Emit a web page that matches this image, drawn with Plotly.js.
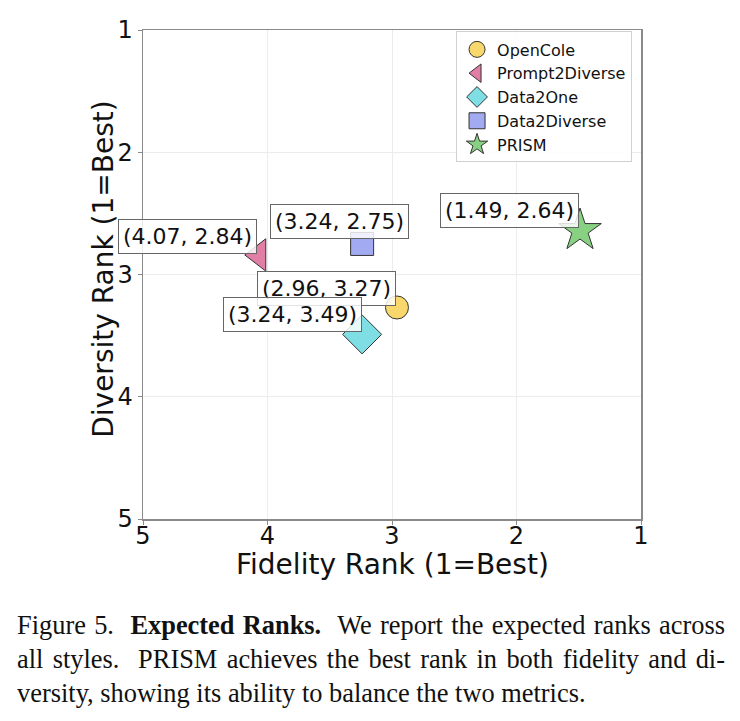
<!DOCTYPE html>
<html>
<head>
<meta charset="utf-8">
<script src="https://cdn.plot.ly/plotly-3.0.1.min.js"></script>
<style>
  html, body { margin: 0; padding: 0; background: #fff; }
  #wrap { position: relative; width: 740px; height: 721px; }
  #chart { position: absolute; left: 0; top: 0; width: 740px; height: 721px; }
  #caption {
    position: absolute; left: 17px; top: 607px; width: 708px;
    font-family: "Liberation Serif", "Times New Roman", serif;
    font-size: 26.4px; line-height: 34px; color: #111;
  }
  #caption .ln { text-align: justify; text-align-last: justify; white-space: nowrap;
                 transform: scaleY(1.07); transform-origin: 50% 50%; }
  #caption .ln.last { text-align-last: left; }
</style>
</head>
<body>
<div id="wrap">
  <div id="chart"></div>
  <div id="caption">
    <div class="ln">Figure 5.&nbsp; <b>Expected Ranks.</b>&nbsp; We report the expected ranks across</div>
    <div class="ln">all styles.&nbsp; PRISM achieves the best rank in both fidelity and di-</div>
    <div class="ln last">versity, showing its ability to balance the two metrics.</div>
  </div>
</div>
<script>
// Expected ranks per method (lower is better on both axes)
const methods = ["OpenCole", "Prompt2Diverse", "Data2One", "Data2Diverse", "PRISM"];
const fidelityRank = [2.96, 4.07, 3.24, 3.24, 1.49];
const diversityRank = [3.27, 2.84, 3.49, 2.75, 2.64];
const rankTicks = [1, 2, 3, 4, 5];

const symbols = ["circle", "triangle-left", "diamond", "square", "star"];
const colors = ["#F8D76C", "#E07EA6", "#7EDEE4", "#A2AAF2", "#88D182"];
const sizes = [23, 28, 30, 23, 32];
// label box offsets in pixels (right, up) relative to each marker
const labelShift = [[-70, 19], [-71, 18], [-70, 20], [-23, 22], [-71, 20]];

const traces = methods.map((m, i) => ({
  type: "scatter",
  mode: "markers",
  name: m,
  x: [fidelityRank[i]],
  y: [diversityRank[i]],
  marker: {
    symbol: symbols[i],
    size: sizes[i],
    color: colors[i],
    line: { color: "#333", width: 1 }
  },
  hoverinfo: "skip"
}));

const labelFont = { family: "DejaVu Sans", size: 22, color: "#111" };
const titleFont = { family: "DejaVu Sans", size: 28, color: "#111" };

const annotations = methods.map((m, i) => ({
  x: fidelityRank[i],
  y: diversityRank[i],
  xref: "x", yref: "y",
  text: "(" + fidelityRank[i].toFixed(2) + ", " + diversityRank[i].toFixed(2) + ")",
  showarrow: false,
  xshift: labelShift[i][0],
  yshift: labelShift[i][1],
  font: labelFont,
  bgcolor: "rgba(255,255,255,0.82)",
  bordercolor: "#666",
  borderwidth: 1,
  borderpad: 4
}));

// axis titles
annotations.push({
  xref: "paper", yref: "paper", x: 0.5, y: -0.093,
  xanchor: "center", yanchor: "middle", showarrow: false,
  text: "Fidelity Rank (1=Best)",
  font: titleFont
});
annotations.push({
  xref: "paper", yref: "paper", x: -0.08, y: 0.51,
  xanchor: "center", yanchor: "middle", showarrow: false, textangle: -90,
  text: "Diversity Rank (1=Best)",
  font: titleFont
});

const axisCommon = {
  showgrid: true,
  gridcolor: "#ececec",
  gridwidth: 1,
  zeroline: false,
  showline: true,
  linecolor: "#8a8a8a",
  linewidth: 1.5,
  mirror: true,
  ticks: "outside",
  ticklen: 4,
  tickcolor: "#8a8a8a",
  tickfont: { family: "DejaVu Sans", size: 24, color: "#111" },
  tickvals: rankTicks,
  ticktext: rankTicks.map(String),
  fixedrange: true,
  automargin: false
};

const layout = {
  width: 740,
  height: 721,
  margin: { l: 143, r: 99, t: 30, b: 202 },
  paper_bgcolor: "#fff",
  plot_bgcolor: "#fff",
  showlegend: true,
  legend: {
    x: 0.982, y: 0.997, xanchor: "right", yanchor: "top",
    bgcolor: "rgba(255,255,255,0.9)",
    bordercolor: "#d0d0d0",
    borderwidth: 1,
    font: { family: "DejaVu Sans", size: 16, color: "#111" },
    tracegroupgap: 0
  },
  xaxis: Object.assign({}, axisCommon, { range: [5, 1], ticklabelstandoff: -9 }),
  yaxis: Object.assign({}, axisCommon, { range: [5, 1] }),
  annotations: annotations
};

Plotly.newPlot("chart", traces, layout, { displayModeBar: false, staticPlot: true });
</script>
</body>
</html>
